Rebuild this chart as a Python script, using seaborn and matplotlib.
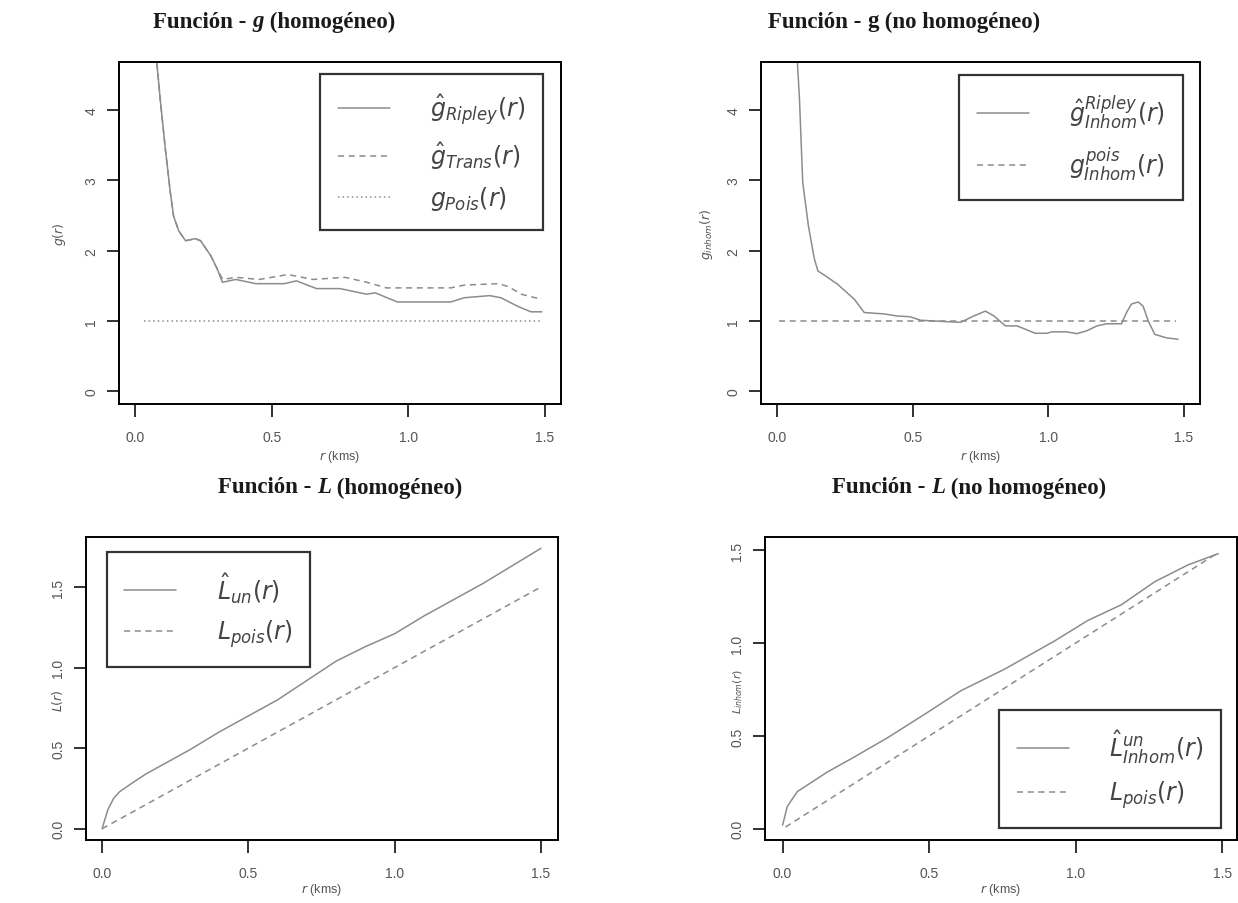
import numpy as np
import pandas as pd
import matplotlib
matplotlib.use('Agg')
import matplotlib.pyplot as plt
import seaborn as sns

# g homogeneous (top left)
r_g_rip = [0.04, 0.07, 0.078, 0.091, 0.11, 0.128, 0.14, 0.159, 0.184, 0.22, 0.239, 0.276, 0.30, 0.319,
           0.368, 0.442, 0.546, 0.59, 0.664, 0.75, 0.848, 0.879, 0.96, 1.03, 1.156, 1.206, 1.298, 1.34,
           1.40, 1.45, 1.49]
g_rip = [9.0, 5.6, 4.7, 4.15, 3.44, 2.83, 2.49, 2.28, 2.14, 2.17, 2.14, 1.93, 1.74, 1.55,
         1.59, 1.53, 1.53, 1.57, 1.46, 1.46, 1.38, 1.40, 1.27, 1.27, 1.27, 1.33, 1.36, 1.33,
         1.21, 1.13, 1.13]
r_g_trans = [0.04, 0.07, 0.078, 0.091, 0.11, 0.128, 0.14, 0.159, 0.184, 0.22, 0.239, 0.276, 0.30, 0.32,
             0.368, 0.454, 0.559, 0.651, 0.768, 0.848, 0.92, 1.156, 1.206, 1.33, 1.366, 1.415, 1.465, 1.49]
g_trans = [9.0, 5.6, 4.7, 4.15, 3.44, 2.83, 2.49, 2.28, 2.14, 2.17, 2.14, 1.93, 1.74, 1.59,
           1.62, 1.59, 1.66, 1.59, 1.62, 1.55, 1.47, 1.47, 1.51, 1.53, 1.49, 1.38, 1.33, 1.31]
r_g_pois = [0.03, 1.49]
g_pois = [1.0, 1.0]

# g inhomogeneous (top right)
r_gi_rip = [0.06, 0.074, 0.082, 0.094, 0.115, 0.137, 0.15, 0.186, 0.223, 0.284, 0.321, 0.394, 0.444,
            0.49, 0.529, 0.627, 0.676, 0.725, 0.768, 0.80, 0.842, 0.885, 0.952, 0.995, 1.013, 1.068,
            1.106, 1.142, 1.18, 1.216, 1.27, 1.289, 1.307, 1.332, 1.35, 1.369, 1.393, 1.436, 1.479]
gi_rip = [7.0, 4.7, 4.15, 2.97, 2.35, 1.88, 1.71, 1.62, 1.52, 1.31, 1.12, 1.10, 1.07,
          1.06, 1.01, 0.99, 0.98, 1.07, 1.14, 1.07, 0.93, 0.93, 0.825, 0.825, 0.845, 0.845,
          0.82, 0.86, 0.93, 0.96, 0.96, 1.12, 1.24, 1.27, 1.21, 1.0, 0.81, 0.76, 0.74]
r_gi_pois = [0.005, 1.47]
gi_pois = [1.0, 1.0]

# L homogeneous (bottom left)
r_l_un = [0.0, 0.01, 0.02, 0.04, 0.06, 0.1, 0.15, 0.2, 0.3, 0.4, 0.5, 0.6, 0.7, 0.8, 0.9, 1.0,
          1.1, 1.2, 1.3, 1.4, 1.5]
l_un = [0.0, 0.06, 0.12, 0.19, 0.23, 0.28, 0.34, 0.39, 0.49, 0.6, 0.7, 0.8, 0.92, 1.04, 1.13, 1.21,
        1.32, 1.42, 1.52, 1.63, 1.74]
r_l_pois = [0.0, 1.5]
l_pois = [0.0, 1.5]

# L inhomogeneous (bottom right)
r_li_un = [0.0, 0.016, 0.05, 0.084, 0.153, 0.244, 0.358, 0.494, 0.608, 0.756, 0.927, 1.04, 1.155,
           1.27, 1.383, 1.486]
li_un = [0.02, 0.12, 0.2, 0.235, 0.306, 0.386, 0.49, 0.626, 0.743, 0.858, 1.01, 1.12, 1.205,
         1.33, 1.42, 1.48]
r_li_pois = [0.01, 1.48]
li_pois = [0.01, 1.48]

sns.set_theme(style="white")
plt.rcParams['font.family'] = ['Liberation Sans', 'DejaVu Sans']
plt.rcParams['mathtext.fontset'] = 'dejavusans'

W, H = 1238, 904
fig = plt.figure(figsize=(W / 100, H / 100), dpi=100)

def make_ax(x0, x1, y0, y1):
    return fig.add_axes([x0 / W, 1 - y1 / H, (x1 - x0) / W, (y1 - y0) / H])

line_col = '#8c8c8c'
tick_col = '#555555'

def style_ax(ax, xlim, ylim, yticks, ytick_labels, ylab, ylab_x, ylab_y, xlab_y, ylab_size=9):
    ax.set_xlim(*xlim)
    ax.set_ylim(*ylim)
    ax.set_xticks([0.0, 0.5, 1.0, 1.5])
    ax.set_xticklabels(['0.0', '0.5', '1.0', '1.5'])
    ax.set_yticks(yticks)
    ax.set_yticklabels(ytick_labels, rotation=90, va='center')
    for s in ax.spines.values():
        s.set_color('black')
        s.set_linewidth(1.4)
    ax.tick_params(axis='both', direction='out', length=9, width=1.3, color='#222222',
                   labelsize=10, labelcolor=tick_col, bottom=True, left=True, pad=6)
    ax.tick_params(axis='x', pad=10)
    ax.set_xlabel('$r$ (kms)', fontsize=9, color=tick_col)
    ax.set_ylabel(ylab, fontsize=ylab_size, color=tick_col)
    ax.xaxis.set_label_coords(0.5, xlab_y)
    ax.yaxis.set_label_coords(ylab_x, ylab_y)

def legend(ax, loc, anchor):
    leg = ax.legend(loc=loc, bbox_to_anchor=anchor, borderaxespad=0, fontsize=17,
                    frameon=True, fancybox=False, handlelength=2.2, handletextpad=1.7,
                    borderpad=0.75, labelspacing=0.55, labelcolor='#444444')
    leg.get_frame().set_edgecolor('black')
    leg.get_frame().set_linewidth(1.6)

# top left
ax1 = make_ax(119, 561, 63, 405)
sns.lineplot(x=r_g_rip, y=g_rip, ax=ax1, color=line_col, lw=1.1, label=r'$\hat{g}_{Ripley}(r)$')
sns.lineplot(x=r_g_trans, y=g_trans, ax=ax1, color=line_col, lw=1.1, linestyle=(0, (4, 3)),
             label=r'$\hat{g}_{Trans}(r)$')
sns.lineplot(x=r_g_pois, y=g_pois, ax=ax1, color=line_col, lw=1.1, linestyle=(0, (1, 2)),
             label=r'$g_{Pois}(r)$')
style_ax(ax1, (-0.06, 1.56), (-0.18, 4.68), [0, 1, 2, 3, 4], ['0', '1', '2', '3', '4'],
         '$g(r)$', -0.115, 0.5, -0.13)
legend(ax1, 'upper right', (0.959, 0.965))

# top right
ax2 = make_ax(761, 1200, 63, 405)
sns.lineplot(x=r_gi_rip, y=gi_rip, ax=ax2, color=line_col, lw=1.1,
             label=r'$\hat{g}^{Ripley}_{Inhom}(r)$')
sns.lineplot(x=r_gi_pois, y=gi_pois, ax=ax2, color=line_col, lw=1.1, linestyle=(0, (4, 3)),
             label=r'$g^{pois}_{Inhom}(r)$')
style_ax(ax2, (-0.06, 1.56), (-0.18, 4.68), [0, 1, 2, 3, 4], ['0', '1', '2', '3', '4'],
         r'$g_{inhom}(r)$', -0.105, 0.5, -0.13)
legend(ax2, 'upper right', (0.961, 0.962))

# bottom left
ax3 = make_ax(86, 558, 538, 841)
sns.lineplot(x=r_l_un, y=l_un, ax=ax3, color=line_col, lw=1.1, label=r'$\hat{L}_{un}(r)$')
sns.lineplot(x=r_l_pois, y=l_pois, ax=ax3, color=line_col, lw=1.1, linestyle=(0, (4, 3)),
             label=r'$L_{pois}(r)$')
style_ax(ax3, (-0.055, 1.558), (-0.07, 1.81), [0.0, 0.5, 1.0, 1.5], ['0.0', '0.5', '1.0', '1.5'],
         '$L(r)$', -0.045, 0.465, -0.135)
legend(ax3, 'upper left', (0.044, 0.95))

# bottom right
ax4 = make_ax(765, 1237, 538, 841)
sns.lineplot(x=r_li_un, y=li_un, ax=ax4, color=line_col, lw=1.1,
             label=r'$\hat{L}^{un}_{Inhom}(r)$')
sns.lineplot(x=r_li_pois, y=li_pois, ax=ax4, color=line_col, lw=1.1, linestyle=(0, (4, 3)),
             label=r'$L_{pois}(r)$')
style_ax(ax4, (-0.06, 1.55), (-0.06, 1.57), [0.0, 0.5, 1.0, 1.5], ['0.0', '0.5', '1.0', '1.5'],
         r'$L_{inhom}(r)$', -0.043, 0.495, -0.135, ylab_size=8)
legend(ax4, 'lower right', (0.966, 0.04))

# titles (serif bold, with an italic letter in the middle)
title_kw = dict(family='Liberation Serif', weight='bold', size=16.5, va='center', color='#1a1a1a')
renderer = fig.canvas.get_renderer()

def rich_title(xc, y, before, mid, after, mid_style='italic'):
    objs, widths = [], []
    for txt, st in [(before, 'normal'), (mid, mid_style), (after, 'normal')]:
        o = fig.text(0, 1 - y / H, txt, style=st, ha='left', **title_kw)
        widths.append(o.get_window_extent(renderer).width)
        objs.append(o)
    x = xc - sum(widths) / 2
    for o, w in zip(objs, widths):
        o.set_x(x / W)
        x += w

rich_title(274, 22, 'Función - ', 'g', ' (homogéneo)')
rich_title(904, 22, 'Función - ', 'g', ' (no homogéneo)', mid_style='normal')
rich_title(340, 488, 'Función - ', 'L', ' (homogéneo)')
rich_title(969, 488, 'Función - ', 'L', ' (no homogéneo)')

fig.savefig('out.png', dpi=100, facecolor='white')
